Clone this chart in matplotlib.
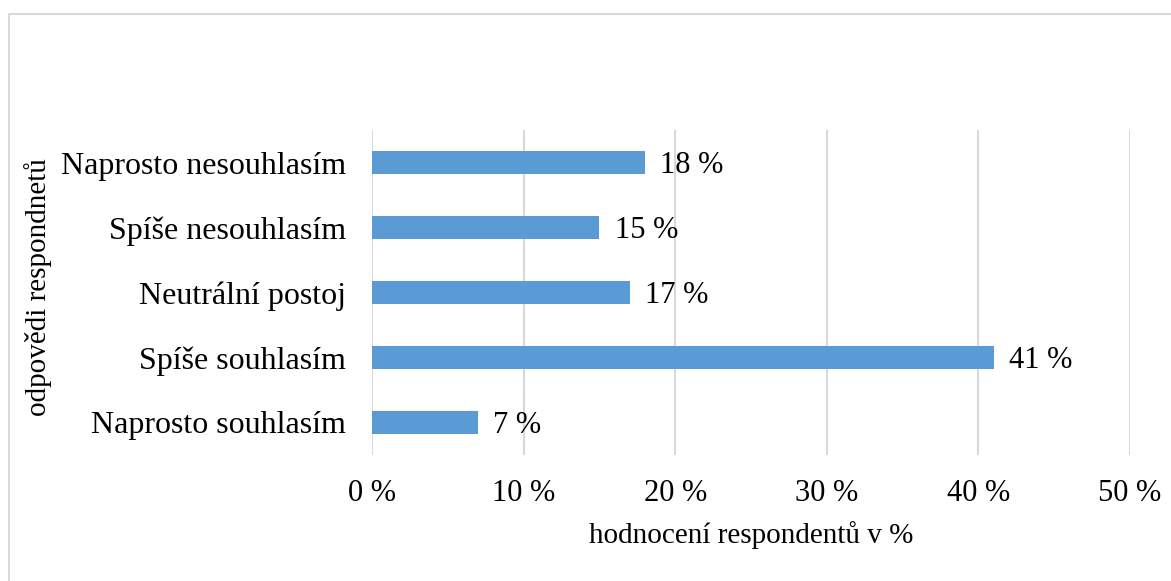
import matplotlib.pyplot as plt
from matplotlib.patches import Rectangle
from matplotlib.ticker import FuncFormatter, MultipleLocator

categories = [
    "Naprosto souhlasím",
    "Spíše souhlasím",
    "Neutrální postoj",
    "Spíše nesouhlasím",
    "Naprosto nesouhlasím",
]
values = [7, 41, 17, 15, 18]

plt.rcParams["font.family"] = ["Liberation Serif", "DejaVu Serif"]

fig = plt.figure(figsize=(11.71, 5.81), dpi=100)
ax = fig.add_axes([0.3177, 0.2169, 0.6473, 0.5593])

# outer chart frame
fig.patches.append(Rectangle((9 / 1171, -0.1), 1.2, 1 - 14 / 581 + 0.1,
                             transform=fig.transFigure, fill=False,
                             edgecolor="#D9D9D9", linewidth=1.5))

y = list(range(len(categories)))
ax.barh(y, values, height=0.34, color="#5B9BD5", zorder=3)
for yi, v in zip(y, values):
    ax.annotate(f"{v} %", (v, yi), xytext=(11, -2), textcoords="offset points",
                va="center", ha="left", fontsize=22, color="#000000", zorder=4)

ax.set_xlim(0, 50)
ax.set_ylim(-0.5, 4.5)
ax.set_yticks(y)
ax.set_yticklabels(categories, fontsize=23)
ax.xaxis.set_major_locator(MultipleLocator(10))
ax.xaxis.set_major_formatter(FuncFormatter(lambda x, _: f"{x:.0f} %"))
ax.tick_params(axis="x", labelsize=22, length=0, pad=17)
ax.tick_params(axis="y", length=0, pad=19)
ax.grid(axis="x", color="#D9D9D9", linewidth=1.5, zorder=0)
for s in ax.spines.values():
    s.set_visible(False)

ax.set_xlabel("hodnocení respondentů v %", fontsize=21, labelpad=10)
fig.text(38 / 1171, 1 - 287 / 581, "odpovědi respondnetů", rotation=90,
         fontsize=21, ha="center", va="center")

fig.savefig("out.png", dpi=100)
